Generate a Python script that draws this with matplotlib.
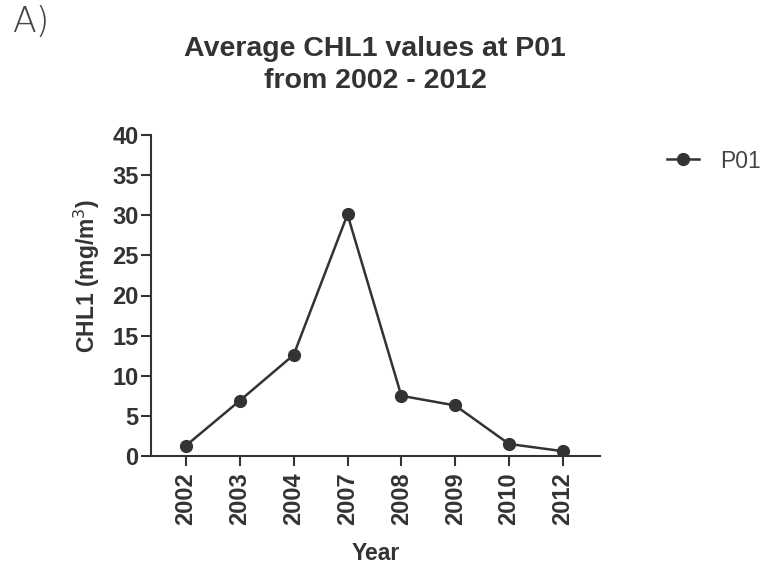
import matplotlib
matplotlib.use('Agg')
from matplotlib import pyplot as plt
import numpy as np

# values
years = ['2002', '2003', '2004', '2007', '2008', '2009', '2010', '2012']
chl1 = [1.3, 6.9, 12.6, 30.1, 7.5, 6.3, 1.5, 0.6]
y_ticks = [0, 5, 10, 15, 20, 25, 30, 35, 40]

ink = '#333333'

plt.rcParams['font.family'] = ['Liberation Sans', 'DejaVu Sans']

fig = plt.figure(figsize=(7.61, 5.70), dpi=100)
ax = fig.add_axes([151/761, 1 - 456/570, 449/761, 321/570])

x = np.arange(len(years))
ax.plot(x, chl1, color=ink, lw=1.8, marker='o', markersize=8.5,
        label='P01')

ax.set_xlim(-0.65, 7.69)
ax.set_ylim(0, 40)
ax.set_xticks(x)
ax.set_xticklabels(years, rotation=90, fontsize=17, fontweight='bold', color=ink)
ax.set_yticks(y_ticks)
ax.set_yticklabels([str(v) for v in y_ticks], fontsize=17, fontweight='bold', color=ink)

for side in ['top', 'right']:
    ax.spines[side].set_visible(False)
for side in ['left', 'bottom']:
    ax.spines[side].set_linewidth(1.5)
    ax.spines[side].set_color(ink)
ax.tick_params(axis='both', length=7, width=1.5, color=ink)
ax.tick_params(axis='x', pad=5)
ax.tick_params(axis='y', pad=2)

ax.set_ylabel('CHL1 (mg/m$^3$)', fontsize=16.5, fontweight='bold', color=ink)
ax.yaxis.set_label_coords(-0.11, 0.56)
ax.set_xlabel('Year', fontsize=16.5, fontweight='bold', color=ink, labelpad=12)

fig.text(375/761, 1 - 65/570, 'Average CHL1 values at P01\nfrom 2002 - 2012',
         ha='center', va='center', fontsize=20.5, fontweight='bold', color=ink,
         linespacing=1.35)

fig.text(13/761, 1 - 22/570, 'A)', ha='left', va='center', fontsize=25,
         family=['DejaVu Sans'], fontweight='light', color='#444444')

leg = ax.legend(loc='center left', bbox_to_anchor=(667/761, 1 - 161/570),
                bbox_transform=fig.transFigure, frameon=False, fontsize=16.5,
                borderpad=0, borderaxespad=0, handlelength=1.4,
                handletextpad=0.9)
for t in leg.get_texts():
    t.set_color('#444444')

plt.savefig('out.png', dpi=100)
